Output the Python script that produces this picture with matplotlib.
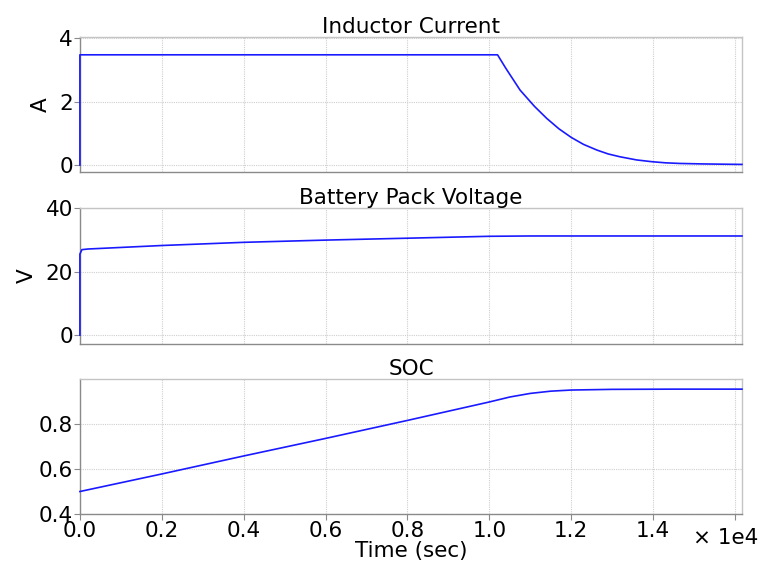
import matplotlib
matplotlib.use("Agg")
import matplotlib.pyplot as plt
from matplotlib.ticker import FuncFormatter

plt.rcParams['font.family'] = ['DejaVu Sans']

# Simulation traces (time in units of 1e4 s)
current_t = [0.0, 0.0, 1.02, 1.04, 1.075, 1.11, 1.14, 1.17, 1.20, 1.23, 1.263, 1.29,
             1.319, 1.36, 1.397, 1.43, 1.465, 1.52, 1.58, 1.617]
current_a = [0.0, 3.47, 3.47, 3.05, 2.36, 1.85, 1.47, 1.14, 0.87, 0.65, 0.47, 0.35,
             0.26, 0.16, 0.105, 0.07, 0.05, 0.035, 0.025, 0.02]

voltage_t = [0.0, 0.0, 0.005, 0.02, 0.2, 0.4, 0.6, 0.733, 0.8, 1.0, 1.1, 1.3, 1.617]
voltage_v = [0.0, 25.5, 26.9, 27.1, 28.2, 29.2, 29.9, 30.3, 30.5, 31.1, 31.2, 31.2, 31.2]

soc_t = [0.0, 0.2, 0.4, 0.6, 0.8, 1.0, 1.05, 1.1, 1.15, 1.2, 1.3, 1.45, 1.617]
soc_v = [0.5, 0.578, 0.658, 0.736, 0.816, 0.898, 0.92, 0.936, 0.946, 0.951, 0.954, 0.955, 0.955]

titles = ["Inductor Current", "Battery Pack Voltage", "SOC"]
ylabels = ["A", "V", ""]
yticks = [[0, 2, 4], [0, 20, 40], [0.4, 0.6, 0.8]]
ylims = [(-0.22, 4.03), (-2.8, 40.0), (0.4, 1.0)]
xticks = [0.0, 0.2, 0.4, 0.6, 0.8, 1.0, 1.2, 1.4, 1.6]
xlim = (0.0, 1.617)

FS = 15.5

fig = plt.figure(figsize=(7.61, 5.74), dpi=100)
boxes = [(0.105, 0.7003, 0.870, 0.2352),
         (0.105, 0.4007, 0.870, 0.2369),
         (0.105, 0.1045, 0.870, 0.2352)]
series = [(current_t, current_a), (voltage_t, voltage_v), (soc_t, soc_v)]

grid_kw = dict(color="#cfcfcf", linestyle=(0, (1, 1)), linewidth=0.8)

for i, (box, (t, y)) in enumerate(zip(boxes, series)):
    ax = fig.add_axes(box)
    ax.plot(t, y, color="#1a1aff", linewidth=1.2, clip_on=False, zorder=5)
    ax.set_xlim(*xlim)
    ax.set_ylim(*ylims[i])
    ax.set_xticks(xticks)
    ax.set_yticks(yticks[i])
    ax.grid(True, **grid_kw)
    ax.set_axisbelow(True)
    for side in ["top", "right"]:
        ax.spines[side].set_color("#c4c4c4")
    for side in ["left", "bottom"]:
        ax.spines[side].set_color("#8a8a8a")
    for sp in ax.spines.values():
        sp.set_linewidth(1.0)
    ax.set_title(titles[i], fontsize=FS, pad=3)
    if ylabels[i]:
        ax.set_ylabel(ylabels[i], fontsize=FS, labelpad=6)
    ax.tick_params(axis="both", labelsize=FS, length=4, color="#8a8a8a",
                   direction="out", pad=1)
    if i < 2:
        ax.tick_params(axis="x", length=0, labelbottom=False)
    else:
        ax.xaxis.set_major_formatter(
            FuncFormatter(lambda v, p: "" if v > 1.5 else f"{v:.1f}"))
        ax.set_xlabel("Time (sec)", fontsize=FS, labelpad=0)
    ax.yaxis.set_major_formatter(
        FuncFormatter(lambda v, p, i=i: f"{v:.1f}" if i == 2 else f"{v:.0f}"))

fig.text(0.997, 0.063, "\u00d7 1e4", fontsize=FS, ha="right", va="center")

fig.savefig("out.png", dpi=100)
